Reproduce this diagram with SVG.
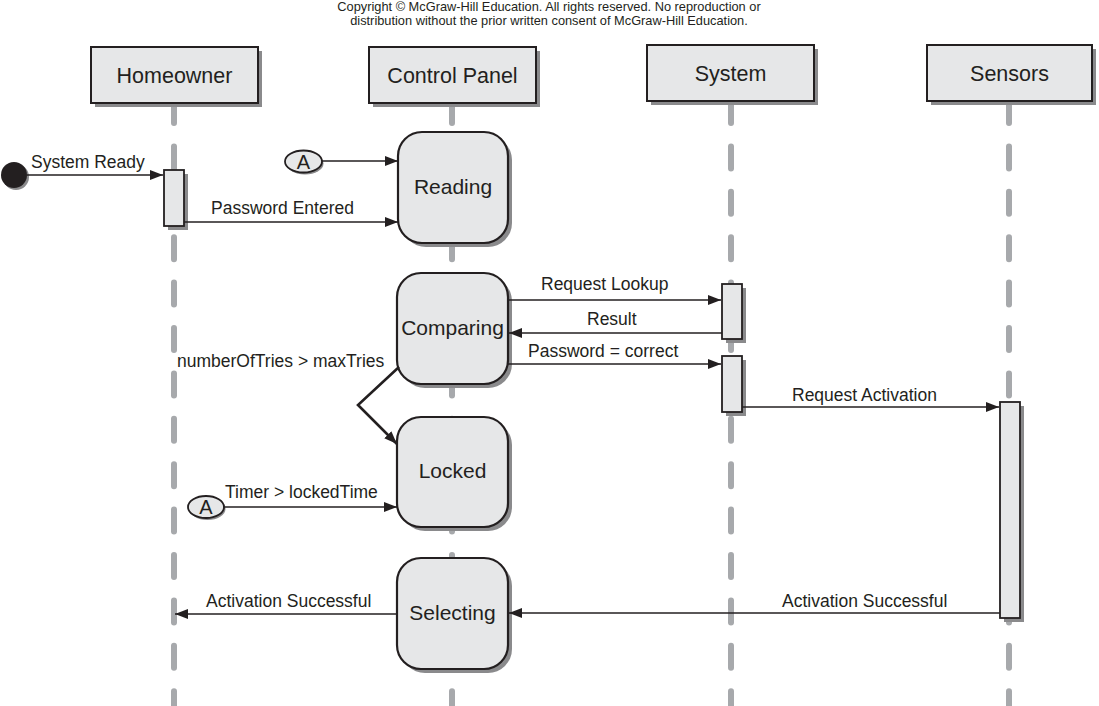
<svg xmlns="http://www.w3.org/2000/svg" width="1099" height="706" viewBox="0 0 1099 706">
<defs>
<style>
.bg{fill:#ffffff}
.life{stroke:#a7a9ac;stroke-width:6;stroke-linecap:round;stroke-dasharray:22 23.4;fill:none}
.shadow{fill:#8a8a8c}
.box{fill:#e6e7e8;stroke:#231f20;stroke-width:2}
.state{fill:#e6e7e8;stroke:#231f20;stroke-width:2.2}
.bar{fill:#e6e7e8;stroke:#231f20;stroke-width:1.8}
.msg{stroke:#231f20;stroke-width:1.7;fill:none;marker-end:url(#ah)}
.thick{stroke:#231f20;stroke-width:2.6;fill:none;marker-end:url(#ah);stroke-linejoin:miter}
.hdr{font-family:"Liberation Sans",Arial,sans-serif;font-size:21.5px;fill:#231f20;text-anchor:middle}
.st{font-family:"Liberation Sans",Arial,sans-serif;font-size:21px;fill:#231f20;text-anchor:middle}
.lbl{font-family:"Liberation Sans",Arial,sans-serif;font-size:17.5px;fill:#231f20}
.cp{font-family:"Liberation Sans",Arial,sans-serif;font-size:12.8px;fill:#231f20;text-anchor:middle}
.conn{fill:#e6e7e8;stroke:#231f20;stroke-width:1.8}
.connt{font-family:"Liberation Sans",Arial,sans-serif;font-size:20px;fill:#231f20;text-anchor:middle}
</style>
<marker id="ah" viewBox="0 0 13 10" refX="13" refY="5" markerWidth="13" markerHeight="10" markerUnits="userSpaceOnUse" orient="auto">
<path d="M0,0 L13,5 L0,10 z" fill="#231f20"/>
</marker>
</defs>
<rect class="bg" x="0" y="0" width="1099" height="706"/>

<g id="copyright">
<text class="cp" x="549" y="11">Copyright © McGraw-Hill Education. All rights reserved. No reproduction or</text>
<text class="cp" x="549" y="25">distribution without the prior written consent of McGraw-Hill Education.</text>
</g>

<g id="lifelines">
<line class="life" x1="174" y1="101" x2="174" y2="720"/>
<line class="life" x1="452" y1="101" x2="452" y2="720"/>
<line class="life" x1="731" y1="101" x2="731" y2="720"/>
<line class="life" x1="1009" y1="101" x2="1009" y2="720"/>
</g>

<g id="homeowner">
<rect class="shadow" x="95" y="51" width="167" height="56"/>
<rect class="box" x="91" y="47" width="167" height="56"/>
<text class="hdr" x="174.5" y="83">Homeowner</text>
</g>
<g id="control-panel">
<rect class="shadow" x="373" y="51" width="167" height="56"/>
<rect class="box" x="369" y="47" width="167" height="56"/>
<text class="hdr" x="452.5" y="83">Control Panel</text>
</g>
<g id="system">
<rect class="shadow" x="651" y="49" width="167" height="56"/>
<rect class="box" x="647" y="45" width="167" height="56"/>
<text class="hdr" x="730.5" y="81">System</text>
</g>
<g id="sensors">
<rect class="shadow" x="931" y="49" width="165" height="56"/>
<rect class="box" x="927" y="45" width="165" height="56"/>
<text class="hdr" x="1009.5" y="81">Sensors</text>
</g>

<g id="initial">
<circle cx="16" cy="177" r="13" fill="#8a8a8c"/>
<circle cx="14" cy="175" r="13" fill="#231f20"/>
</g>

<g id="homeowner-activation">
<rect class="shadow" x="168" y="174" width="20" height="56"/>
<rect class="bar" x="164" y="170" width="20" height="56"/>
</g>
<g id="system-activation-1">
<rect class="shadow" x="726" y="288" width="20" height="55"/>
<rect class="bar" x="722" y="284" width="20" height="55"/>
</g>
<g id="system-activation-2">
<rect class="shadow" x="726" y="360" width="20" height="56"/>
<rect class="bar" x="722" y="356" width="20" height="56"/>
</g>
<g id="sensors-activation">
<rect class="shadow" x="1004" y="406" width="20" height="216"/>
<rect class="bar" x="1000" y="402" width="20" height="216"/>
</g>

<g id="reading">
<rect class="shadow" x="402" y="136" width="110" height="111" rx="24"/>
<rect class="state" x="398" y="132" width="110" height="111" rx="24"/>
<text class="st" x="453" y="194">Reading</text>
</g>
<g id="comparing">
<rect class="shadow" x="401" y="277" width="111" height="111" rx="24"/>
<rect class="state" x="397" y="273" width="111" height="111" rx="24"/>
<text class="st" x="452.5" y="335">Comparing</text>
</g>
<g id="locked">
<rect class="shadow" x="401" y="421" width="111" height="110" rx="24"/>
<rect class="state" x="397" y="417" width="111" height="110" rx="24"/>
<text class="st" x="452.5" y="478">Locked</text>
</g>
<g id="selecting">
<rect class="shadow" x="401" y="562" width="111" height="111" rx="24"/>
<rect class="state" x="397" y="558" width="111" height="111" rx="24"/>
<text class="st" x="452.5" y="620">Selecting</text>
</g>

<g id="connector-a-top">
<ellipse cx="305" cy="163.5" rx="18.5" ry="11" fill="#8a8a8c"/>
<ellipse class="conn" cx="303.5" cy="161.5" rx="18.5" ry="11"/>
<text class="connt" x="303.5" y="168.5">A</text>
</g>
<g id="connector-a-bottom">
<ellipse cx="207.5" cy="509" rx="18" ry="11" fill="#8a8a8c"/>
<ellipse class="conn" cx="206" cy="507" rx="18" ry="11"/>
<text class="connt" x="206" y="514">A</text>
</g>

<g id="connectors">
<line class="msg" x1="27" y1="175" x2="163" y2="175"/>
<line class="msg" x1="184" y1="222" x2="398" y2="222"/>
<line class="msg" x1="322" y1="161" x2="398" y2="161"/>
<line class="msg" x1="508" y1="300" x2="721" y2="300"/>
<line class="msg" x1="722" y1="333" x2="509" y2="333"/>
<line class="msg" x1="508" y1="364" x2="721" y2="364"/>
<line class="msg" x1="742" y1="407" x2="999" y2="407"/>
<line class="msg" x1="1000" y1="613" x2="509" y2="613"/>
<line class="msg" x1="397" y1="614" x2="175" y2="614"/>
<line class="msg" x1="224" y1="507" x2="397" y2="507"/>
<polyline class="thick" points="399,367 358,405 397,444"/>
<text class="lbl" x="31" y="168">System Ready</text>
<text class="lbl" x="211" y="214">Password Entered</text>
<text class="lbl" x="541" y="290">Request Lookup</text>
<text class="lbl" x="587" y="325">Result</text>
<text class="lbl" x="528" y="357">Password = correct</text>
<text class="lbl" x="792" y="401">Request Activation</text>
<text class="lbl" x="177" y="367">numberOfTries &gt; maxTries</text>
<text class="lbl" x="225" y="498">Timer &gt; lockedTime</text>
<text class="lbl" x="782" y="607">Activation Successful</text>
<text class="lbl" x="206" y="607">Activation Successful</text>
</g>
</svg>
